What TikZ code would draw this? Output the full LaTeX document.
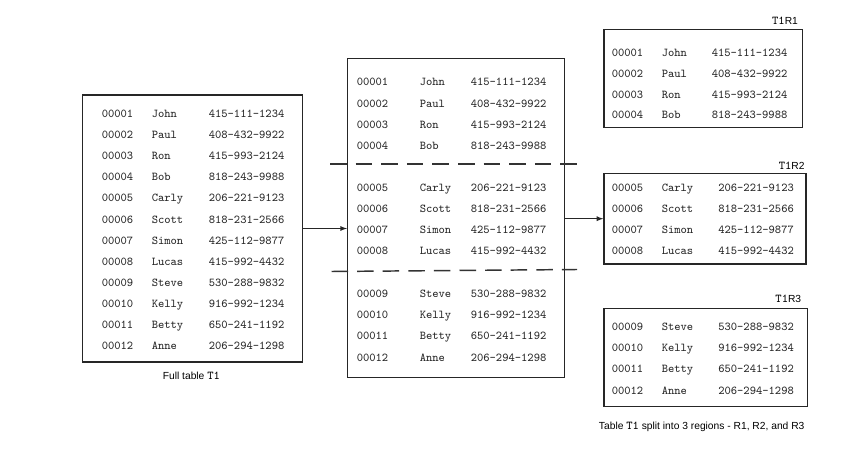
\documentclass[tikz,border=0pt]{standalone}
\usepackage{fontspec}
\usetikzlibrary{positioning}
\newfontfamily\capfont{Liberation Sans}

% rows of table T1
\def\rowsA{00001/John/415-111-1234, 00002/Paul/408-432-9922,
  00003/Ron/415-993-2124, 00004/Bob/818-243-9988}
\def\rowsB{00005/Carly/206-221-9123, 00006/Scott/818-231-2566,
  00007/Simon/425-112-9877, 00008/Lucas/415-992-4432}
\def\rowsC{00009/Steve/530-288-9832, 00010/Kelly/916-992-1234,
  00011/Betty/650-241-1192, 00012/Anne/206-294-1298}
\edef\rowsAll{\rowsA,\rowsB,\rowsC}

% #1 prefix, #2 first y, #3 row step, #4-#6 column x, #7 rows
\newcommand\datarows[7]{%
  \foreach \id/\who/\tel [count=\i] in #7 {
    \node[cell] (#1-id-\i) at (#4,#2+#3*\i-#3) {\id};
    \node[cell] (#1-name-\i) at (#5,#2+#3*\i-#3) {\who};
    \node[cell] (#1-tel-\i) at (#6,#2+#3*\i-#3) {\tel};
  }%
}

\begin{document}
\begin{tikzpicture}[
  x=0.75pt,
  y=-0.75pt,
  cell/.style={
    anchor=west,
    inner sep=0pt,
    text height=6pt,
    text depth=0pt,
    text=black!85,
    font=\ttfamily\fontsize{9}{11}\selectfont
  },
  tablebox/.style={
    draw=black!85,
    line width=1.1pt,
    inner sep=0pt
  },
  flow/.style={
    -latex,
    line width=0.7pt,
    draw=black!85
  },
  cut/.style={
    line width=1.1pt,
    draw=black!80,
    dash pattern=on 12.4pt off 6.8pt
  },
  boxlabel/.style={
    inner sep=0pt,
    font=\capfont\fontsize{7.7}{9}\selectfont
  }
]
  \useasboundingbox (0,0) rectangle (845,452);

  % full table
  \node[tablebox,minimum width=165pt,minimum height=200.25pt]
    (full) at (192.7,228.5) {};
  \datarows{full}{113.3}{21.15}{101.5}{151.5}{208.5}{\rowsAll}
  \node[boxlabel,below=7pt of full,xshift=-1pt]
    (fullcap) {Full table {\ttfamily\fontsize{9}{11}\selectfont T1}};

  % split table
  \node[tablebox,minimum width=162.5pt,minimum height=239.25pt]
    (mid) at (456,217.8) {};
  \datarows{midA}{81.7}{21.4}{356.5}{419.5}{470.5}{\rowsA}
  \datarows{midB}{187.7}{21}{356.5}{419.5}{470.5}{\rowsB}
  \datarows{midC}{293.3}{21.3}{356.5}{419.5}{470.5}{\rowsC}
  \coordinate (cutAw) at (330,164);
  \coordinate (cutAe) at (577,164);
  \coordinate (cutBw) at (331.5,271.5);
  \coordinate (cutBe) at (577,269.5);
  \draw[cut] (cutAw) -- (cutAe);
  \draw[cut] (cutBw) -- (cutBe);

  % regions
  \node[tablebox,minimum width=148.7pt,minimum height=73.5pt]
    (r1) at (703.2,78.3) {};
  \datarows{r1}{52.3}{20.9}{611.5}{661.5}{711.5}{\rowsA}
  \node[boxlabel,above left=2.8pt and 3.7pt of r1.north east]
    (r1lab) {{\ttfamily\fontsize{9}{11}\selectfont T1}R1};

  \node[tablebox,minimum width=151.5pt,minimum height=68pt]
    (r2) at (705,218.7) {};
  \datarows{r2}{187.7}{21}{611.5}{661.5}{718}{\rowsB}
  \node[boxlabel,above left=2pt and 1.5pt of r2.north east]
    (r2lab) {{\ttfamily\fontsize{9}{11}\selectfont T1}R2};

  \node[tablebox,minimum width=152.5pt,minimum height=73.8pt]
    (r3) at (705.7,357.5) {};
  \datarows{r3}{326.7}{21.1}{611.5}{661.5}{718}{\rowsC}
  \node[boxlabel,above left=3.5pt and 5pt of r3.north east]
    (r3lab) {{\ttfamily\fontsize{9}{11}\selectfont T1}R3};
  \node[boxlabel,below=11pt of r3,xshift=-3pt]
    (splitcap) {Table {\ttfamily\fontsize{9}{11}\selectfont T1} split into 3 regions - R1, R2, and R3};

  \draw[flow] (full.east) -- (mid.west |- full.east);
  \draw[flow] (mid.east |- r2.west) -- (r2.west);
\end{tikzpicture}
\end{document}
